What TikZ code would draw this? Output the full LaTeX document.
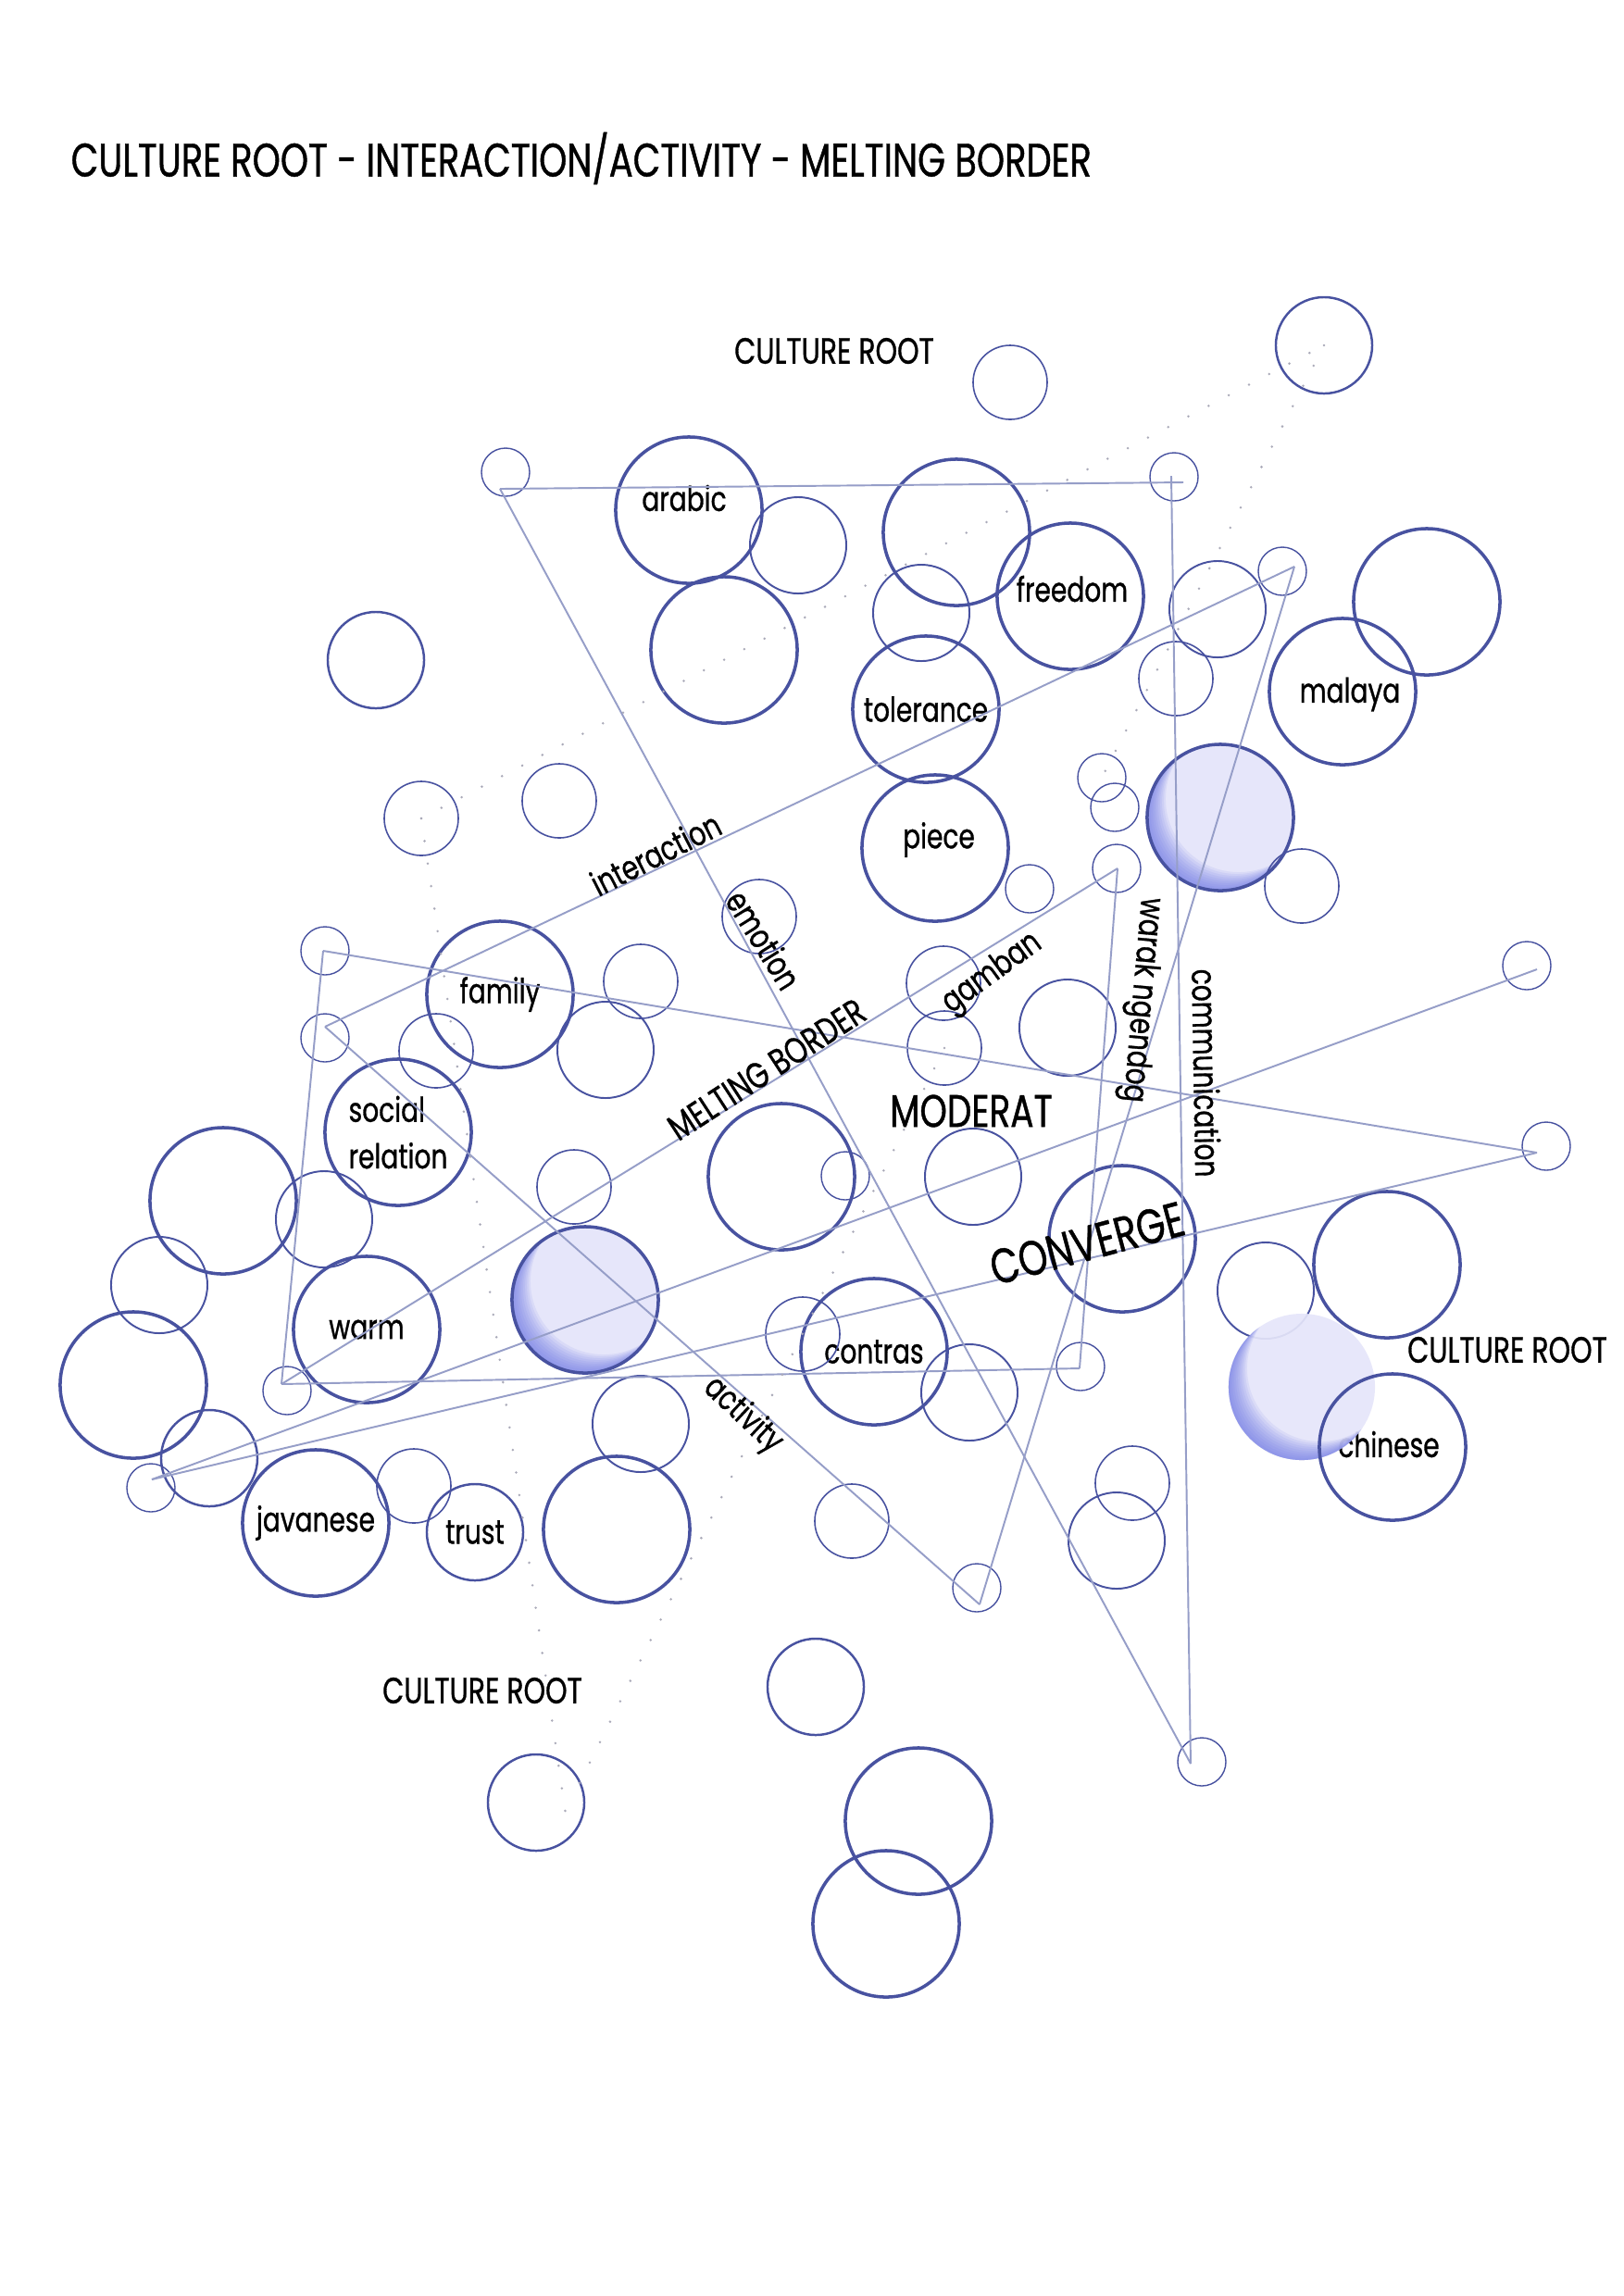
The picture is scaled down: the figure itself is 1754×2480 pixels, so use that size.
\documentclass[tikz,border=0pt]{standalone}
\usepackage{fontspec}
\setmainfont{Poppins}[FakeStretch=0.76, FakeBold=0.8]
\definecolor{ringblue}{RGB}{72,82,160}
\definecolor{linkgrey}{RGB}{150,158,200}
\definecolor{dotgrey}{RGB}{170,170,185}
\definecolor{orbIn}{RGB}{230,230,250}
\definecolor{orbEdge}{RGB}{104,114,228}
\tikzset{
  bigring/.style={circle, draw=ringblue, line width=1pt, inner sep=0pt, minimum size=1.58cm, align=left},
  midring/.style={circle, draw=ringblue, line width=0.55pt, inner sep=0pt, minimum size=1.04cm},
  smallring/.style={circle, draw=ringblue, line width=0.45pt, inner sep=0pt, minimum size=0.8cm},
  dotring/.style={circle, draw=ringblue, line width=0.4pt, inner sep=0pt, minimum size=0.52cm},
  link/.style={draw=linkgrey, line width=0.55pt},
  dotline/.style={draw=dotgrey, line width=0.8pt, line cap=round, dash pattern=on 0pt off 7pt},
  word/.style={inner sep=1pt},
  rootword/.style={font=\fontsize{11.2}{13}\selectfont, inner sep=1pt},
  bigword/.style={font=\fontsize{14}{16}\selectfont, inner sep=1pt},
  pics/glowfill/.style={code={
    \fill[orbIn] (0,0) circle (0.79cm);
    \begin{scope}
      \clip (0,0) circle (0.79cm);
      \foreach \s in {0.02,0.04,...,0.2}
        \fill[orbEdge, opacity=0.1, even odd rule] (0,0) circle (0.8cm) (\s cm,\s cm) circle (0.79cm);
    \end{scope}
  }}
}
\begin{document}
\begin{tikzpicture}[x=0.01cm, y=-0.01cm, font=\fontsize{10.5}{14.3}\selectfont]
\fill[white] (0,0) rectangle (1754,2480);

\node[anchor=west, inner sep=0pt, font=\fontsize{14.4}{17}\selectfont] (title) at (76,171) {CULTURE ROOT - INTERACTION/ACTIVITY - MELTING BORDER};

\pic (glowA) at (1318,883) {glowfill};
\pic (glowB) at (632,1404) {glowfill};
\node[bigring] (ringA) at (1318,883) {};
\node[bigring] (ringB) at (632,1404) {};

\node[bigring] (arabic) at (744,551) {};
\node[word] (arabicword) at (739,538) {arabic};
\node[bigring] (freedom) at (1156,644) {};
\node[word] (freedomword) at (1158,636) {freedom};
\node[bigring] (tolerance) at (1000,766) {tolerance};
\node[bigring] (malaya) at (1450,747) {};
\node[word] (malayaword) at (1458,750) {malaya};
\node[bigring] (piece) at (1010,916) {};
\node[word] (pieceword) at (1014,907) {piece};
\node[bigring] (family) at (540,1074) {family};
\node[bigring] (socialrel) at (430,1223) {social\\relation};
\node[bigring] (warm) at (396,1436) {warm};
\node[bigring] (contras) at (944,1460) {contras};
\node[bigring] (javanese) at (341,1645) {javanese};
\node[midring, line width=0.7pt] (trust) at (513,1655) {trust};
\node[bigring] (convring) at (1212,1338) {};

\node[bigring] (b1) at (1033,575) {};
\node[bigring] (b2) at (782,702) {};
\node[bigring] (b3) at (1541,650) {};
\node[bigring] (b4) at (844,1271) {};
\node[bigring] (b5) at (1498,1366) {};
\node[bigring] (b6) at (241,1297) {};
\node[bigring] (b7) at (144,1496) {};
\node[bigring] (b8) at (666,1652) {};
\node[bigring] (b9) at (992,1967) {};
\node[bigring] (b10) at (957,2078) {};

\node[midring] (m1) at (862,589) {};
\node[midring] (m2) at (995,662) {};
\node[midring] (m3) at (1315,658) {};
\node[midring, line width=0.7pt] (m4) at (1430,373) {};
\node[midring, line width=0.7pt] (m5) at (406,713) {};
\node[midring] (m6) at (654,1134) {};
\node[midring] (m7) at (1153,1110) {};
\node[midring] (m8) at (350,1317) {};
\node[midring] (m9) at (1051,1271) {};
\node[midring] (m10) at (1367,1394) {};
\node[midring] (m11) at (172,1388) {};
\node[midring, line width=0.7pt] (m12) at (226,1575) {};
\node[midring] (m13) at (692,1538) {};
\node[midring] (m14) at (1047,1504) {};
\node[midring] (m15) at (1206,1664) {};
\node[midring, line width=0.7pt] (m16) at (881,1822) {};
\node[midring, line width=0.7pt] (m17) at (579,1947) {};

\node[smallring] (s1) at (1091,413) {};
\node[smallring] (s2) at (1270,733) {};
\node[smallring] (s3) at (455,884) {};
\node[smallring] (s4) at (604,865) {};
\node[smallring] (s5) at (1406,957) {};
\node[smallring] (s6) at (820,990) {};
\node[smallring] (s7) at (692,1060) {};
\node[smallring] (s8) at (471,1135) {};
\node[smallring] (s9) at (1019,1062) {};
\node[smallring] (s10) at (1020,1132) {};
\node[smallring] (s11) at (620,1282) {};
\node[smallring] (s12) at (867,1441) {};
\node[smallring] (s13) at (447,1605) {};
\node[smallring] (s14) at (920,1643) {};
\node[smallring] (s15) at (1223,1602) {};

\node[dotring] (d1) at (546,510) {};
\node[dotring] (d2) at (1268,515) {};
\node[dotring] (d3) at (1385,617) {};
\node[dotring] (d4) at (1190,840) {};
\node[dotring] (d5) at (1204,872) {};
\node[dotring] (d6) at (1112,960) {};
\node[dotring] (d7) at (1206,938) {};
\node[dotring] (d8) at (351,1027) {};
\node[dotring] (d9) at (351,1121) {};
\node[dotring] (d10) at (1649,1043) {};
\node[dotring] (d11) at (913,1270) {};
\node[dotring] (d12) at (1670,1238) {};
\node[dotring] (d13) at (310,1502) {};
\node[dotring] (d14) at (1167,1476) {};
\node[dotring] (d15) at (163,1607) {};
\node[dotring] (d16) at (1055,1715) {};
\node[dotring] (d17) at (1298,1903) {};

\node[word] (chineseword) at (1500,1560) {chinese};
\pic[opacity=0.92] (glowC) at (1406,1498) {glowfill};
\node[bigring] (chinese) at (1504,1563) {};

\coordinate (cTL) at (540,528);
\coordinate (cTR) at (1278,521);
\coordinate (cTop) at (1265,514);
\coordinate (cBot) at (1286,1905);
\coordinate (cFam) at (349,1027);
\coordinate (cMid) at (351,1109);
\coordinate (cLow) at (304,1495);
\coordinate (cBR) at (1166,1478);
\coordinate (cGam) at (1207,938);
\coordinate (cEast) at (1660,1245);
\coordinate (cNE) at (1660,1047);
\coordinate (cInt) at (1398,612);
\coordinate (cDown) at (1058,1733);
\coordinate (cWest) at (164,1598);

\draw[link] (cTL) -- (cTR);
\draw[link] (cTop) -- (cBot);
\draw[link] (cTL) -- (cBot);
\draw[link] (cFam) -- (cEast);
\draw[link] (cFam) -- (cLow);
\draw[link] (cLow) -- (cBR);
\draw[link] (cBR) -- (cGam);
\draw[link] (cGam) -- (cLow);
\draw[link] (cMid) -- (cInt);
\draw[link] (cMid) -- (cDown);
\draw[link] (cInt) -- (cDown);
\draw[link] (cWest) -- (cNE);
\draw[link] (cWest) -- (cEast);

\draw[dotline] (s3.center) -- (m4.center);
\draw[dotline] (m4.center) -- (d4.center);
\draw[dotline] (s3.center) -- (611,1960);
\draw[dotline] (s10.center) -- (624,1930);

\node[word, rotate=27] (interaction) at (708,922) {interaction};
\node[word, rotate=-58] (emotion) at (825,1015) {emotion};
\node[word, rotate=36] (gamban) at (1072,1052) {gamban};
\node[word, rotate=-95] (warak) at (1232,1080) {warak ngendog};
\node[word, rotate=-89] (communication) at (1303,1159) {communication};
\node[word, rotate=-43] (activity) at (802,1529) {activity};
\node[rootword, rotate=33] (melting) at (828,1155) {MELTING BORDER};
\node[bigword] (moderat) at (1049,1200) {MODERAT};
\node[bigword, font=\fontsize{15}{17}\selectfont, rotate=15] (converge) at (1174,1343) {CONVERGE};
\node[rootword] (rootTop) at (901,379) {CULTURE ROOT};
\node[rootword] (rootRight) at (1628,1458) {CULTURE ROOT};
\node[rootword] (rootLow) at (521,1826) {CULTURE ROOT};
\end{tikzpicture}
\end{document}
